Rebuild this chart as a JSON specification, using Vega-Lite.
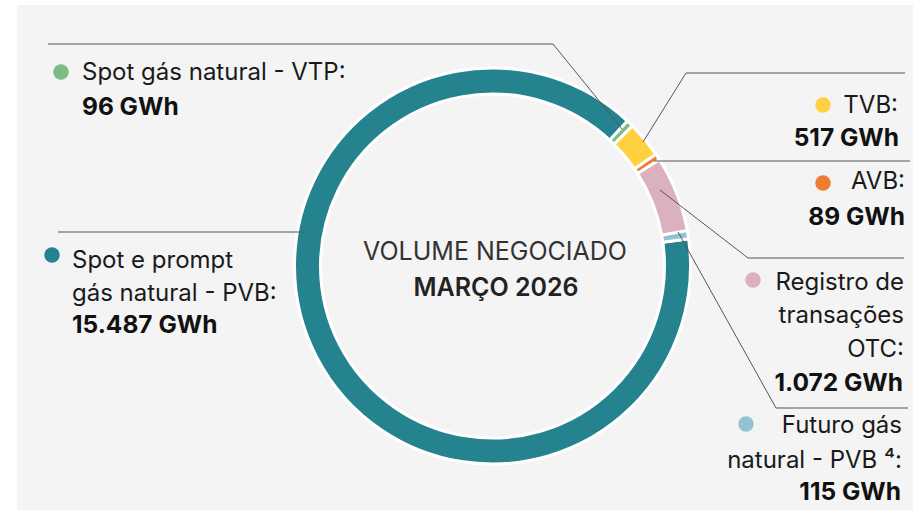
{
  "$schema": "https://vega.github.io/schema/vega-lite/v6.json",
  "width": 913,
  "height": 510,
  "autosize": {"type": "fit", "contains": "padding"},
  "padding": {"left": 17, "top": 5, "right": 0, "bottom": 0},
  "background": "#ffffff",
  "config": {"view": {"stroke": null, "fill": "#f4f4f4"}, "font": "Inter"},
  "datasets": {
    "slices": [
      {"cat": "Spot e prompt gás natural - PVB", "value": 15487, "ord": 1},
      {"cat": "Spot gás natural - VTP", "value": 96, "ord": 2},
      {"cat": "TVB", "value": 517, "ord": 3},
      {"cat": "AVB", "value": 89, "ord": 4},
      {"cat": "Registro de transações OTC", "value": 1072, "ord": 5},
      {"cat": "Futuro gás natural - PVB", "value": 115, "ord": 6}
    ],
    "leaders": [
      {"px": 48, "py": 44, "px2": 553, "py2": 44},
      {"px": 553, "py": 44, "px2": 622, "py2": 129},
      {"px": 686, "py": 73, "px2": 905, "py2": 73},
      {"px": 686, "py": 73, "px2": 643, "py2": 142},
      {"px": 654, "py": 161, "px2": 910, "py2": 161},
      {"px": 660, "py": 190, "px2": 748, "py2": 258},
      {"px": 748, "py": 258, "px2": 904, "py2": 258},
      {"px": 678, "py": 232, "px2": 776, "py2": 408},
      {"px": 776, "py": 408, "px2": 908, "py2": 408},
      {"px": 58, "py": 232, "px2": 307, "py2": 232}
    ],
    "dots": [
      {"cat": "Spot gás natural - VTP", "px": 61, "py": 72},
      {"cat": "Spot e prompt gás natural - PVB", "px": 52, "py": 255},
      {"cat": "TVB", "px": 823, "py": 105},
      {"cat": "AVB", "px": 823, "py": 183},
      {"cat": "Registro de transações OTC", "px": 753, "py": 280},
      {"cat": "Futuro gás natural - PVB", "px": 746, "py": 424}
    ],
    "labels": [
      {"txt": "Spot gás natural - VTP:", "px": 82, "py": 80, "side": "L", "w": "n"},
      {"txt": "96 GWh", "px": 82, "py": 115, "side": "L", "w": "b"},
      {"txt": "Spot e prompt", "px": 72, "py": 268, "side": "L", "w": "n"},
      {"txt": "gás natural - PVB:", "px": 72, "py": 301, "side": "L", "w": "n"},
      {"txt": "15.487 GWh", "px": 72, "py": 333, "side": "L", "w": "b"},
      {"txt": "TVB:", "px": 898, "py": 113, "side": "R", "w": "n"},
      {"txt": "517 GWh", "px": 899, "py": 146, "side": "R", "w": "b"},
      {"txt": "AVB:", "px": 905, "py": 189, "side": "R", "w": "n"},
      {"txt": "89 GWh", "px": 905, "py": 225, "side": "R", "w": "b"},
      {"txt": "Registro de", "px": 904, "py": 290, "side": "R", "w": "n"},
      {"txt": "transações", "px": 904, "py": 323, "side": "R", "w": "n"},
      {"txt": "OTC:", "px": 904, "py": 357, "side": "R", "w": "n"},
      {"txt": "1.072 GWh", "px": 903, "py": 391, "side": "R", "w": "b"},
      {"txt": "Futuro gás", "px": 902, "py": 433, "side": "R", "w": "n"},
      {"txt": "natural - PVB ⁴:", "px": 902, "py": 468, "side": "R", "w": "n"},
      {"txt": "115 GWh", "px": 901, "py": 500, "side": "R", "w": "b"},
      {"txt": "VOLUME NEGOCIADO", "px": 495, "py": 260, "side": "C", "w": "n"},
      {"txt": "MARÇO 2026", "px": 496, "py": 296, "side": "C", "w": "b"}
    ]
  },
  "layer": [
    {
      "data": {"name": "slices"},
      "mark": {"type": "arc", "radius": 198, "radius2": 172, "stroke": "#ffffff", "strokeWidth": 3},
      "encoding": {
        "x": {"datum": 492.5, "type": "quantitative", "scale": {"domain": [17, 913], "nice": false, "zero": false}, "axis": null},
        "y": {"datum": 266, "type": "quantitative", "scale": {"domain": [5, 510], "nice": false, "zero": false, "reverse": true}, "axis": null},
        "theta": {"field": "value", "type": "quantitative", "stack": true, "scale": {"range": [1.433, 7.716]}},
        "order": {"field": "ord", "type": "quantitative"},
        "color": {"field": "cat", "type": "nominal", "legend": null,
          "scale": {"domain": ["Spot e prompt gás natural - PVB", "Spot gás natural - VTP", "TVB", "AVB", "Registro de transações OTC", "Futuro gás natural - PVB"],
                    "range": ["#25838f", "#7dba84", "#ffd03f", "#ee7d31", "#dbb0bf", "#93c2d3"]}}
      }
    },
    {
      "data": {"name": "leaders"},
      "mark": {"type": "rule", "color": "#555555", "strokeWidth": 1},
      "encoding": {
        "x": {"field": "px", "type": "quantitative", "scale": {"domain": [17, 913], "nice": false, "zero": false}, "axis": null},
        "y": {"field": "py", "type": "quantitative", "scale": {"domain": [5, 510], "nice": false, "zero": false, "reverse": true}, "axis": null},
        "x2": {"field": "px2"},
        "y2": {"field": "py2"}
      }
    },
    {
      "data": {"name": "dots"},
      "mark": {"type": "point", "shape": "circle", "filled": true, "opacity": 1, "size": 240},
      "encoding": {
        "x": {"field": "px", "type": "quantitative", "scale": {"domain": [17, 913], "nice": false, "zero": false}, "axis": null},
        "y": {"field": "py", "type": "quantitative", "scale": {"domain": [5, 510], "nice": false, "zero": false, "reverse": true}, "axis": null},
        "color": {"field": "cat", "type": "nominal", "legend": null}
      }
    },
    {
      "data": {"name": "labels"},
      "transform": [{"filter": "datum.side == 'L' && datum.w == 'n'"}],
      "mark": {"type": "text", "align": "left", "baseline": "alphabetic", "fontSize": 24, "color": "#1a1a1a"},
      "encoding": {
        "x": {"field": "px", "type": "quantitative", "scale": {"domain": [17, 913], "nice": false, "zero": false}, "axis": null},
        "y": {"field": "py", "type": "quantitative", "scale": {"domain": [5, 510], "nice": false, "zero": false, "reverse": true}, "axis": null},
        "text": {"field": "txt"}
      }
    },
    {
      "data": {"name": "labels"},
      "transform": [{"filter": "datum.side == 'L' && datum.w == 'b'"}],
      "mark": {"type": "text", "align": "left", "baseline": "alphabetic", "fontSize": 24.5, "fontWeight": 700, "color": "#111111"},
      "encoding": {
        "x": {"field": "px", "type": "quantitative", "scale": {"domain": [17, 913], "nice": false, "zero": false}, "axis": null},
        "y": {"field": "py", "type": "quantitative", "scale": {"domain": [5, 510], "nice": false, "zero": false, "reverse": true}, "axis": null},
        "text": {"field": "txt"}
      }
    },
    {
      "data": {"name": "labels"},
      "transform": [{"filter": "datum.side == 'R' && datum.w == 'n'"}],
      "mark": {"type": "text", "align": "right", "baseline": "alphabetic", "fontSize": 24, "color": "#1a1a1a"},
      "encoding": {
        "x": {"field": "px", "type": "quantitative", "scale": {"domain": [17, 913], "nice": false, "zero": false}, "axis": null},
        "y": {"field": "py", "type": "quantitative", "scale": {"domain": [5, 510], "nice": false, "zero": false, "reverse": true}, "axis": null},
        "text": {"field": "txt"}
      }
    },
    {
      "data": {"name": "labels"},
      "transform": [{"filter": "datum.side == 'R' && datum.w == 'b'"}],
      "mark": {"type": "text", "align": "right", "baseline": "alphabetic", "fontSize": 24.5, "fontWeight": 700, "color": "#111111"},
      "encoding": {
        "x": {"field": "px", "type": "quantitative", "scale": {"domain": [17, 913], "nice": false, "zero": false}, "axis": null},
        "y": {"field": "py", "type": "quantitative", "scale": {"domain": [5, 510], "nice": false, "zero": false, "reverse": true}, "axis": null},
        "text": {"field": "txt"}
      }
    },
    {
      "data": {"name": "labels"},
      "transform": [{"filter": "datum.side == 'C' && datum.w == 'n'"}],
      "mark": {"type": "text", "align": "center", "baseline": "alphabetic", "fontSize": 25, "color": "#333333"},
      "encoding": {
        "x": {"field": "px", "type": "quantitative", "scale": {"domain": [17, 913], "nice": false, "zero": false}, "axis": null},
        "y": {"field": "py", "type": "quantitative", "scale": {"domain": [5, 510], "nice": false, "zero": false, "reverse": true}, "axis": null},
        "text": {"field": "txt"}
      }
    },
    {
      "data": {"name": "labels"},
      "transform": [{"filter": "datum.side == 'C' && datum.w == 'b'"}],
      "mark": {"type": "text", "align": "center", "baseline": "alphabetic", "fontSize": 25, "fontWeight": 600, "color": "#222222"},
      "encoding": {
        "x": {"field": "px", "type": "quantitative", "scale": {"domain": [17, 913], "nice": false, "zero": false}, "axis": null},
        "y": {"field": "py", "type": "quantitative", "scale": {"domain": [5, 510], "nice": false, "zero": false, "reverse": true}, "axis": null},
        "text": {"field": "txt"}
      }
    }
  ]
}
